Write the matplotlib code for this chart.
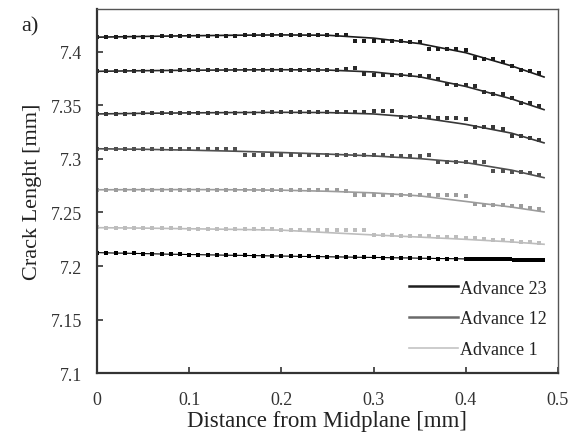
import matplotlib

matplotlib.use("Agg")
import matplotlib.pyplot as plt
from matplotlib.ticker import FuncFormatter

plt.rcParams["font.family"] = ["Liberation Serif", "DejaVu Serif"]

# sampled crack-front points (distance from midplane, mm)
x_pts = [0.00, 0.01, 0.02, 0.03, 0.04, 0.05, 0.06, 0.07, 0.08, 0.09,
         0.10, 0.11, 0.12, 0.13, 0.14, 0.15, 0.16, 0.17, 0.18, 0.19,
         0.20, 0.21, 0.22, 0.23, 0.24, 0.25, 0.26, 0.27, 0.28, 0.29,
         0.30, 0.31, 0.32, 0.33, 0.34, 0.35, 0.36, 0.37, 0.38, 0.39,
         0.40, 0.41, 0.42, 0.43, 0.44, 0.45, 0.46, 0.47, 0.48]

pts_s1 = [7.4137, 7.4138, 7.4139, 7.4140, 7.4140, 7.4142, 7.4143, 7.4144, 7.4145, 7.4146,
          7.4147, 7.4148, 7.4149, 7.4150, 7.4151, 7.4152, 7.4153, 7.4154, 7.4155, 7.4156,
          7.4157, 7.4158, 7.4158, 7.4158, 7.4160, 7.4160, 7.4160, 7.4157, 7.4098, 7.4098,
          7.4098, 7.4098, 7.4098, 7.4098, 7.4095, 7.4092, 7.4030, 7.4028, 7.4027, 7.4025,
          7.4020, 7.3945, 7.3935, 7.3930, 7.3905, 7.3870, 7.3835, 7.3820, 7.3800]
pts_s2 = [7.3818, 7.3819, 7.3820, 7.3821, 7.3822, 7.3823, 7.3823, 7.3824, 7.3825, 7.3826,
          7.3827, 7.3827, 7.3828, 7.3828, 7.3829, 7.3829, 7.3830, 7.3830, 7.3831, 7.3831,
          7.3832, 7.3832, 7.3832, 7.3833, 7.3833, 7.3833, 7.3833, 7.3836, 7.3845, 7.3790,
          7.3788, 7.3787, 7.3785, 7.3783, 7.3780, 7.3776, 7.3770, 7.3745, 7.3700, 7.3688,
          7.3688, 7.3682, 7.3625, 7.3610, 7.3608, 7.3570, 7.3520, 7.3525, 7.3495]
pts_s3 = [7.3420, 7.3421, 7.3422, 7.3423, 7.3424, 7.3425, 7.3426, 7.3427, 7.3428, 7.3429,
          7.3430, 7.3430, 7.3431, 7.3431, 7.3432, 7.3432, 7.3433, 7.3433, 7.3434, 7.3434,
          7.3435, 7.3435, 7.3435, 7.3436, 7.3436, 7.3437, 7.3437, 7.3438, 7.3439, 7.3440,
          7.3445, 7.3448, 7.3452, 7.3395, 7.3392, 7.3390, 7.3388, 7.3386, 7.3384, 7.3380,
          7.3370, 7.3298, 7.3296, 7.3294, 7.3280, 7.3218, 7.3215, 7.3200, 7.3175]
pts_s4 = [7.3097, 7.3097, 7.3097, 7.3097, 7.3097, 7.3096, 7.3096, 7.3096, 7.3096, 7.3096,
          7.3095, 7.3095, 7.3095, 7.3095, 7.3094, 7.3094, 7.3035, 7.3035, 7.3035, 7.3035,
          7.3035, 7.3034, 7.3034, 7.3034, 7.3034, 7.3033, 7.3033, 7.3033, 7.3033, 7.3032,
          7.3032, 7.3032, 7.3031, 7.3031, 7.3031, 7.3030, 7.3032, 7.2972, 7.2971, 7.2970,
          7.2969, 7.2968, 7.2972, 7.2888, 7.2885, 7.2882, 7.2878, 7.2865, 7.2850]
pts_s5 = [7.2710, 7.2710, 7.2710, 7.2710, 7.2710, 7.2710, 7.2710, 7.2710, 7.2710, 7.2710,
          7.2710, 7.2710, 7.2710, 7.2709, 7.2709, 7.2709, 7.2709, 7.2709, 7.2708, 7.2708,
          7.2708, 7.2707, 7.2707, 7.2707, 7.2706, 7.2706, 7.2706, 7.2705, 7.2665, 7.2665,
          7.2665, 7.2664, 7.2664, 7.2664, 7.2663, 7.2663, 7.2662, 7.2662, 7.2661, 7.2665,
          7.2655, 7.2575, 7.2573, 7.2570, 7.2568, 7.2565, 7.2560, 7.2545, 7.2530]
pts_s6 = [7.2360, 7.2359, 7.2358, 7.2357, 7.2356, 7.2355, 7.2354, 7.2353, 7.2352, 7.2351,
          7.2350, 7.2349, 7.2348, 7.2347, 7.2346, 7.2345, 7.2344, 7.2343, 7.2342, 7.2341,
          7.2340, 7.2339, 7.2339, 7.2338, 7.2338, 7.2337, 7.2337, 7.2337, 7.2336, 7.2336,
          7.2290, 7.2286, 7.2285, 7.2283, 7.2282, 7.2280, 7.2277, 7.2274, 7.2271, 7.2267,
          7.2262, 7.2257, 7.2252, 7.2246, 7.2240, 7.2235, 7.2228, 7.2222, 7.2218]

# initial front, sampled more densely near the free surface
x_init = [0.00, 0.01, 0.02, 0.03, 0.04, 0.05, 0.06, 0.07, 0.08, 0.09,
          0.10, 0.11, 0.12, 0.13, 0.14, 0.15, 0.16, 0.17, 0.18, 0.19,
          0.20, 0.21, 0.22, 0.23, 0.24, 0.25, 0.26, 0.27, 0.28, 0.29,
          0.30, 0.31, 0.32, 0.33, 0.34, 0.35, 0.36, 0.37, 0.38, 0.39,
          0.400, 0.404, 0.408, 0.412, 0.416, 0.420, 0.424, 0.428, 0.432, 0.436,
          0.440, 0.444, 0.448, 0.452, 0.456, 0.460, 0.464, 0.468, 0.472, 0.476,
          0.480, 0.484]
y_init = [7.2125, 7.2123, 7.2121, 7.2120, 7.2118, 7.2116, 7.2114, 7.2112, 7.2110, 7.2109,
          7.2107, 7.2106, 7.2104, 7.2103, 7.2101, 7.2100, 7.2099, 7.2097, 7.2096, 7.2094,
          7.2093, 7.2092, 7.2090, 7.2089, 7.2088, 7.2086, 7.2085, 7.2084, 7.2082, 7.2081,
          7.2080, 7.2079, 7.2077, 7.2076, 7.2075, 7.2073, 7.2072, 7.2070, 7.2069, 7.2068,
          7.2066, 7.2066, 7.2065, 7.2065, 7.2064, 7.2064, 7.2063, 7.2063, 7.2062, 7.2062,
          7.2061, 7.2061, 7.2061, 7.2060, 7.2060, 7.2060, 7.2059, 7.2059, 7.2059, 7.2058,
          7.2058, 7.2058]

# fitted fronts
x_fit = [0.0, 0.05, 0.1, 0.15, 0.2, 0.25, 0.3, 0.35, 0.4, 0.45, 0.485]
fit_s1 = [7.4137, 7.4144, 7.4150, 7.4155, 7.4158, 7.4155, 7.4128, 7.4077, 7.3992, 7.3868, 7.3765]
fit_s2 = [7.3818, 7.3824, 7.3828, 7.3831, 7.3833, 7.3830, 7.3812, 7.3767, 7.3677, 7.3560, 7.3460]
fit_s3 = [7.3420, 7.3426, 7.3430, 7.3433, 7.3435, 7.3433, 7.3420, 7.3386, 7.3323, 7.3240, 7.3150]
fit_s4 = [7.3095, 7.3090, 7.3082, 7.3072, 7.3060, 7.3045, 7.3028, 7.3003, 7.2966, 7.2895, 7.2825]
fit_s5 = [7.2712, 7.2713, 7.2714, 7.2712, 7.2708, 7.2698, 7.2683, 7.2655, 7.2603, 7.2550, 7.2505]
fit_s6 = [7.2358, 7.2354, 7.2348, 7.2342, 7.2335, 7.2312, 7.2290, 7.2270, 7.2249, 7.2225, 7.2203]

series = [
    (pts_s1, fit_s1, "#1c1c1c"),
    (pts_s2, fit_s2, "#2a2a2a"),
    (pts_s3, fit_s3, "#383838"),
    (pts_s4, fit_s4, "#505050"),
    (pts_s5, fit_s5, "#9c9c9c"),
    (pts_s6, fit_s6, "#bdbdbd"),
]

legend_labels = ["Advance 23", "Advance 12", "Advance 1"]
legend_colors = ["#1e1e1e", "#6a6a6a", "#c4c4c4"]
legend_widths = [1.8, 1.8, 1.2]

fig = plt.figure(figsize=(5.71, 4.35), dpi=100)
ax = fig.add_axes([0.170, 0.140, 0.807, 0.837])

for pts, fit, color in series:
    ax.plot(x_pts, pts, linestyle="none", marker="s", markersize=2.2,
            color=color, markeredgewidth=0)
    ax.plot(x_fit, fit, color=color, linewidth=1.2)
ax.plot(x_init, y_init, color="black", linewidth=0.8, marker="s",
        markersize=2.2, markeredgewidth=0)

handles = []
for label, color, lw in zip(legend_labels, legend_colors, legend_widths):
    (h,) = ax.plot([], [], color=color, linewidth=lw, label=label)
    handles.append(h)
ax.legend(handles=handles, loc="lower right", frameon=False, fontsize=13,
          handlelength=2.7, handletextpad=0.15, labelspacing=0.75,
          bbox_to_anchor=(1.0, 0.012), borderaxespad=0.2, labelcolor="#222222")

ax.set_xlim(0, 0.5)
ax.set_ylim(7.1, 7.44)
ax.set_xticks([0, 0.1, 0.2, 0.3, 0.4, 0.5])
ax.set_yticks([7.1, 7.15, 7.2, 7.25, 7.3, 7.35, 7.4])
fmt = FuncFormatter(lambda v, p: f"{v:g}")
ax.xaxis.set_major_formatter(fmt)
ax.yaxis.set_major_formatter(fmt)
ax.tick_params(direction="in", length=4, width=1.2, labelsize=13,
               colors="#333333")
ax.tick_params(axis="x", pad=13)
ax.tick_params(axis="y", pad=11)
for side in ["left", "bottom"]:
    ax.spines[side].set_linewidth(1.6)
    ax.spines[side].set_color("#333333")
for side in ["top", "right"]:
    ax.spines[side].set_linewidth(1.0)
    ax.spines[side].set_color("#555555")

ax.set_xlabel("Distance from Midplane [mm]", fontsize=16.5, color="#222222", labelpad=1)
ax.set_ylabel("Crack Lenght [mm]", fontsize=16, color="#222222", labelpad=6)
fig.text(0.038, 0.938, "a)", fontsize=16, color="#222222", va="center")

fig.savefig("out.png", dpi=100)
